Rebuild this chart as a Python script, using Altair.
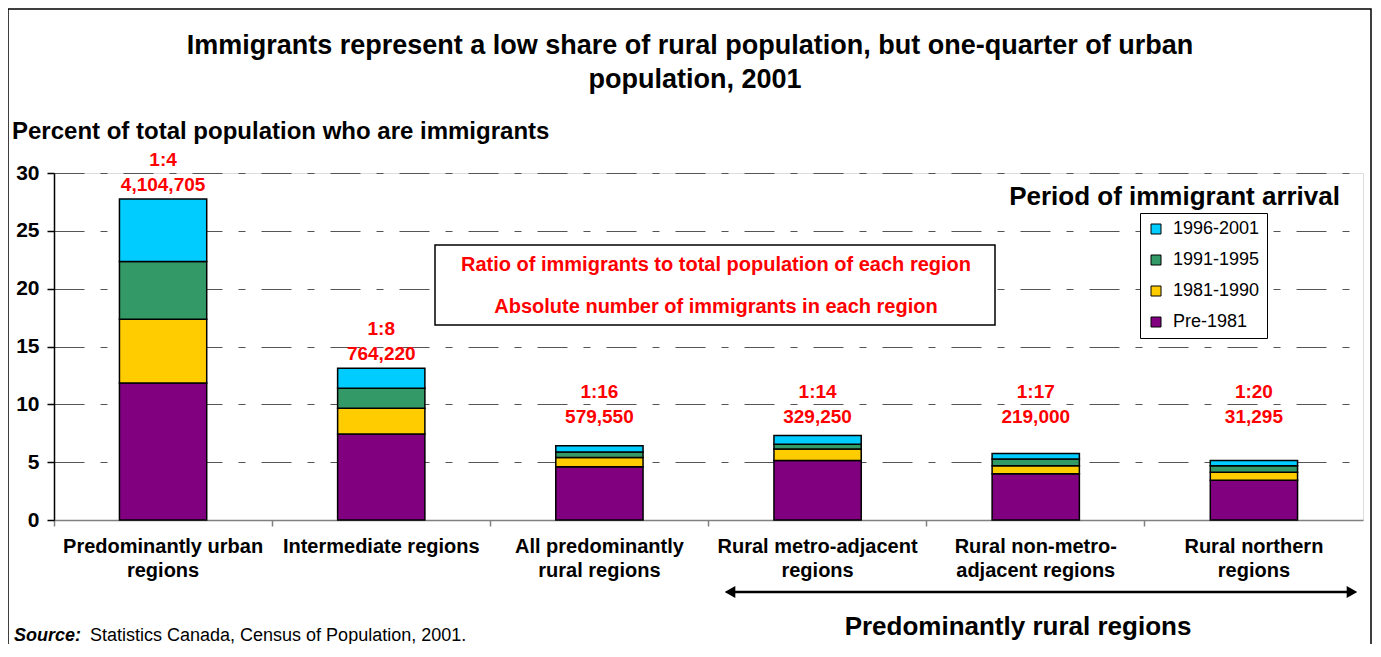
import altair as alt
import pandas as pd

FONT = "Liberation Sans"

categories = [
    "Predominantly urban regions",
    "Intermediate regions",
    "All predominantly rural regions",
    "Rural metro-adjacent regions",
    "Rural non-metro-adjacent regions",
    "Rural northern regions",
]
category_labels = [
    "Predominantly urban\nregions",
    "Intermediate regions",
    "All predominantly\nrural regions",
    "Rural metro-adjacent\nregions",
    "Rural non-metro-\nadjacent regions",
    "Rural northern\nregions",
]
periods = ["1996-2001", "1991-1995", "1981-1990", "Pre-1981"]
period_colors = ["#00CCFF", "#339966", "#FFCC00", "#800080"]

pre_1981 = [11.85, 7.43, 4.60, 5.15, 4.00, 3.43]
arr_1981_1990 = [5.50, 2.24, 0.81, 0.98, 0.69, 0.69]
arr_1991_1995 = [5.00, 1.73, 0.46, 0.41, 0.58, 0.57]
arr_1996_2001 = [5.40, 1.73, 0.55, 0.77, 0.49, 0.46]

ratios = ["1:4", "1:8", "1:16", "1:14", "1:17", "1:20"]
counts = ["4,104,705", "764,220", "579,550", "329,250", "219,000", "31,295"]

series = [
    ("Pre-1981", pre_1981, 0),
    ("1981-1990", arr_1981_1990, 1),
    ("1991-1995", arr_1991_1995, 2),
    ("1996-2001", arr_1996_2001, 3),
]
rows = []
for i, c in enumerate(categories):
    for name, vals, o in series:
        rows.append({"region": c, "period": name, "value": vals[i], "ord": o})
bars_df = pd.DataFrame(rows)

totals = [sum(s[1][i] for s in series) for i in range(len(categories))]
labels_df = pd.DataFrame({
    "region": categories, "ratio": ratios, "count": counts,
    "total": totals, "label": category_labels,
})
one = pd.DataFrame({"k": [0]})

W, H = 1309, 347

xaxis = alt.Axis(title=None, labels=False, bandPosition=0, ticks=True, tickSize=6,
                 tickColor="#808080", tickWidth=1.5, domainColor="#808080",
                 domainWidth=1.5, grid=False)
X = alt.X("region:N", sort=categories,
          scale=alt.Scale(paddingInner=0, paddingOuter=0), axis=xaxis)
yscale = alt.Scale(domain=[0, 30], nice=False)
yaxis = alt.Axis(title=None, values=[0, 5, 10, 15, 20, 25, 30], labelFont=FONT,
                 labelFontSize=21, labelFontWeight="bold", labelColor="black",
                 labelPadding=8, tickSize=7, tickColor="black", tickWidth=1.5,
                 domainColor="black", domainWidth=1.5, grid=True,
                 gridColor="#555555", gridWidth=1.2, gridDash=[30, 16, 7, 16])

bars = alt.Chart(bars_df).mark_bar(
    width=alt.RelativeBandSize(0.4), stroke="black", strokeWidth=1.5
).encode(
    x=X,
    y=alt.Y("value:Q", scale=yscale, axis=yaxis, stack="zero"),
    color=alt.Color("period:N", scale=alt.Scale(domain=periods, range=period_colors),
                    legend=alt.Legend(orient="none", legendX=1086, legendY=40,
                                      title=None, strokeColor="black",
                                      fillColor="white", padding=7, rowPadding=13,
                                      labelFont=FONT, labelFontSize=18,
                                      labelColor="black", labelOffset=8,
                                      symbolType="square", symbolSize=100,
                                      symbolStrokeColor="black",
                                      symbolStrokeWidth=1)),
    order=alt.Order("ord:Q", sort="ascending"),
)

lab_base = alt.Chart(labels_df).transform_calculate(
    ly="max(datum.total, 7.7) + 1.2"
)
count_text = lab_base.mark_text(
    color="#FF0000", font=FONT, fontSize=19, fontWeight="bold", baseline="middle"
).encode(x=X, y=alt.Y("ly:Q", scale=yscale, axis=yaxis), text="count:N")
ratio_text = lab_base.mark_text(
    color="#FF0000", font=FONT, fontSize=19, fontWeight="bold", baseline="middle", dy=-25
).encode(x=X, y=alt.Y("ly:Q", scale=yscale, axis=yaxis), text="ratio:N")

cat_text = alt.Chart(labels_df).mark_text(
    font=FONT, fontSize=20, fontWeight="bold", baseline="middle", lineBreak="\n",
    lineHeight=24, color="black"
).encode(x=X, y=alt.value(374), text="label:N")

def txt(s, x, y, size, weight="bold", color="black", align="center", style="normal"):
    return alt.Chart(one).mark_text(
        font=FONT, fontSize=size, fontWeight=weight, color=color, align=align,
        baseline="middle", fontStyle=style
    ).encode(x=alt.value(x), y=alt.value(y), text=alt.value(s))

frame = alt.Chart(one).mark_rect(fill="transparent", stroke="black", strokeWidth=1.5).encode(
    x=alt.value(-46), x2=alt.value(1317), y=alt.value(-164), y2=alt.value(600))
ann_box = alt.Chart(one).mark_rect(fill="white", stroke="black", strokeWidth=1.5).encode(
    x=alt.value(381), x2=alt.value(941), y=alt.value(72), y2=alt.value(152))

arrow_line = alt.Chart(one).mark_rule(color="black", strokeWidth=2.5).encode(
    x=alt.value(676), x2=alt.value(1298), y=alt.value(419))
arrow_l = alt.Chart(one).mark_point(shape="triangle-left", filled=True, color="black",
                                    size=150, opacity=1).encode(
    x=alt.value(676), y=alt.value(419))
arrow_r = alt.Chart(one).mark_point(shape="triangle-right", filled=True, color="black",
                                    size=150, opacity=1).encode(
    x=alt.value(1298), y=alt.value(419))

layers = [
    frame,
    bars,
    count_text,
    ratio_text,
    cat_text,
    ann_box,
    txt("Ratio of immigrants to total population of each region", 662, 92, 20, color="#FF0000"),
    txt("Absolute number of immigrants in each region", 662, 134, 20, color="#FF0000"),
    txt("Immigrants represent a low share of rural population, but one-quarter of urban",
        636, -127, 27),
    txt("population, 2001", 641, -93, 27),
    txt("Percent of total population who are immigrants", -42, -41, 24, align="left"),
    txt("Period of immigrant arrival", 1286, 24, 26, align="right"),
    arrow_line, arrow_l, arrow_r,
    txt("Predominantly rural regions", 964, 454, 26),
    txt("Source:", -40, 463, 18, style="italic", align="left"),
    txt("Statistics Canada, Census of Population, 2001.", 36, 463, 18, weight="normal",
        align="left"),
]

chart = alt.layer(*layers).properties(
    width=W, height=H, autosize=alt.AutoSizeParams(type="none"),
    padding={"left": 46, "top": 165, "right": 10, "bottom": 124},
).configure_view(stroke="#808080", strokeWidth=1.5).configure(background="white")

chart.save("out.html", embed_options={"renderer": "svg", "actions": False})
